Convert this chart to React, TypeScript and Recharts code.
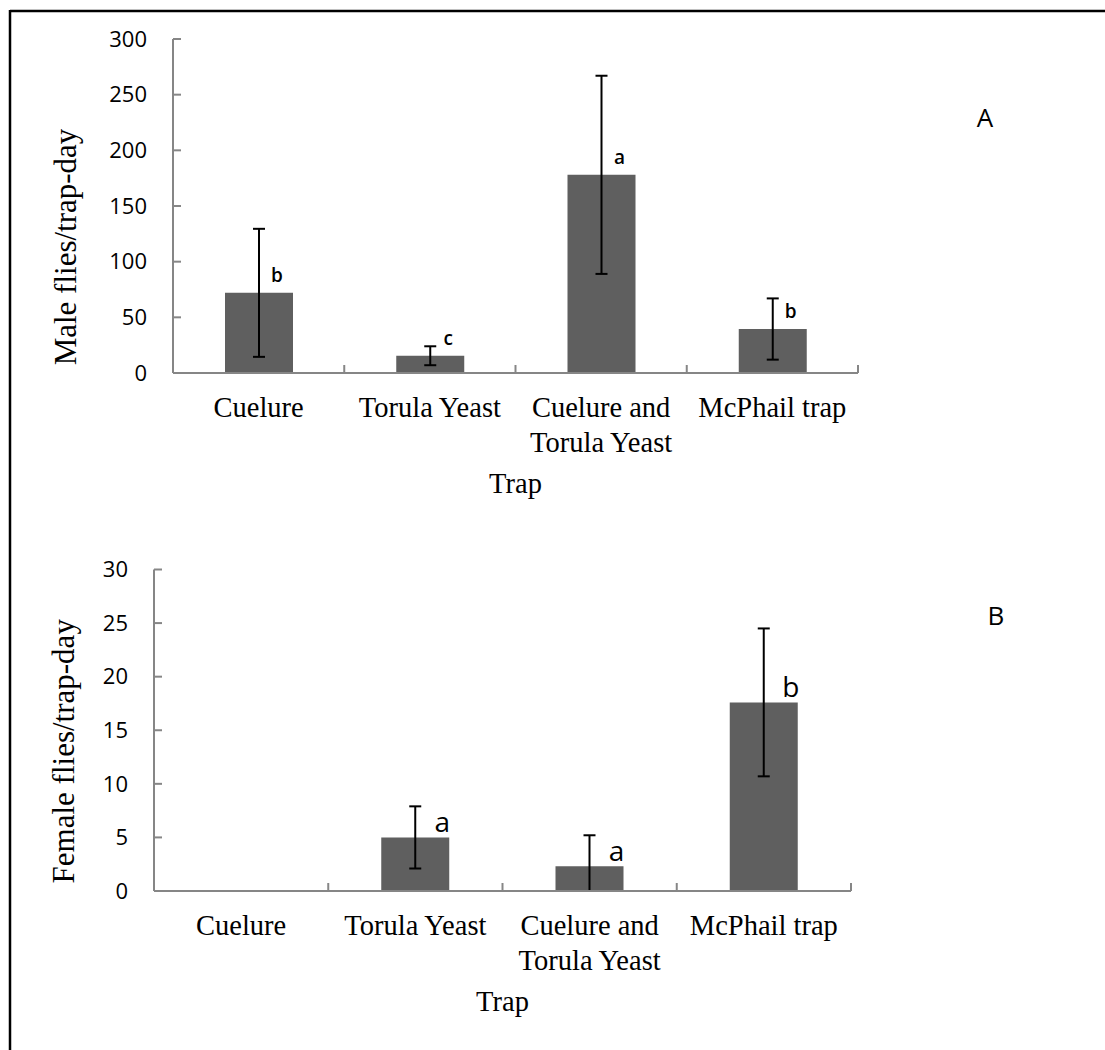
import { Bar, BarChart, ErrorBar, LabelList, XAxis, YAxis } from 'recharts'

// data
const traps = ['Cuelure', 'Torula Yeast', 'Cuelure and\nTorula Yeast', 'McPhail trap']

const maleMeans = [72, 15.5, 178, 39.5]
const maleErrors = [57.5, 8.5, 89, 27.5]
const maleLetters = ['b', 'c', 'a', 'b']
const maleTicks = [0, 50, 100, 150, 200, 250, 300]

const femaleMeans = [0, 5, 2.3, 17.6]
// [below, above]; the lower arm of the third bar stops at the axis
const femaleErrors = [[0, 0], [2.9, 2.9], [2.3, 2.9], [6.9, 6.9]]
const femaleLetters = ['', 'a', 'a', 'b']
const femaleTicks = [0, 5, 10, 15, 20, 25, 30]

const SERIF = "'Liberation Serif', 'Times New Roman', serif"
const SANS = "'Open Sans', 'Noto Sans', sans-serif"
const AXIS = '#868686'
const BAR = '#5f5f5f'

type PanelProps = {
    means: number[]
    errors: (number | number[])[]
    letters: string[]
    ticks: number[]
    yTitle: string
    top: number
    height: number
    margin: { top: number; right: number; bottom: number; left: number }
    titleDx: number
    titleDy: number
    letterSize: number
    letterWeight: number
    letterDx: number
    letterDy: number
}

// category label plus the small upward tick on the right edge of its band
const TrapTick = (props: any) => {
    const { x, y, payload, width, visibleTicksCount } = props
    const band = width / (visibleTicksCount || 4)
    const lines = String(payload.value).split('\n')
    return (
        <g>
            <line x1={x + band / 2} y1={y} x2={x + band / 2} y2={y - 8} stroke={AXIS} strokeWidth={2} />
            <text x={x} y={y + 44} textAnchor="middle" fontFamily={SERIF} fontSize={28.5} fill="#000">
                {lines.map((line, i) => (
                    <tspan key={i} x={x} dy={i === 0 ? 0 : 34.5}>
                        {line}
                    </tspan>
                ))}
            </text>
        </g>
    )
}

const Panel = (p: PanelProps) => {
    const rows = traps.map((trap, i) => ({
        trap,
        mean: p.means[i],
        err: p.errors[i],
        letter: p.letters[i]
    }))
    const max = p.ticks[p.ticks.length - 1]

    const renderLetter = (props: any) => {
        const vb = props.viewBox ?? props
        const x = props.x ?? vb.x
        const y = props.y ?? vb.y
        const width = props.width ?? vb.width
        if (!props.value) return null
        return (
            <text
                x={x + width / 2 + p.letterDx}
                y={y - p.letterDy}
                textAnchor="middle"
                dominantBaseline="central"
                fontFamily={SANS}
                fontSize={p.letterSize}
                fontWeight={p.letterWeight}
                fill="#000"
            >
                {props.value}
            </text>
        )
    }

    return (
        <div style={{ position: 'absolute', left: 0, top: p.top }}>
            <BarChart width={1105} height={p.height} data={rows} margin={p.margin} barSize={68}>
                <XAxis
                    dataKey="trap"
                    height={1}
                    interval={0}
                    tickSize={0}
                    tickMargin={0}
                    tickLine={false}
                    axisLine={{ stroke: AXIS, strokeWidth: 2 }}
                    tick={<TrapTick />}
                    label={(lp: any) => {
                        const vb = lp.viewBox
                        return (
                            <text
                                x={vb.x + vb.width / 2}
                                y={vb.y + 120}
                                textAnchor="middle"
                                fontFamily={SERIF}
                                fontSize={28.5}
                                fill="#000"
                            >
                                Trap
                            </text>
                        )
                    }}
                />
                <YAxis
                    type="number"
                    domain={[0, max]}
                    ticks={p.ticks}
                    allowDataOverflow
                    interval={0}
                    width={1}
                    tickSize={-8}
                    tickMargin={34}
                    axisLine={{ stroke: AXIS, strokeWidth: 2 }}
                    tickLine={{ stroke: AXIS, strokeWidth: 2 }}
                    tick={{ fontFamily: SANS, fontSize: 22, fill: '#000' }}
                    label={(lp: any) => {
                        const vb = lp.viewBox
                        const cx = vb.x + vb.width + p.titleDx
                        const cy = vb.y + vb.height / 2 + p.titleDy
                        return (
                            <text
                                x={cx}
                                y={cy}
                                transform={`rotate(-90, ${cx}, ${cy})`}
                                textAnchor="middle"
                                dominantBaseline="central"
                                fontFamily={SERIF}
                                fontSize={31}
                                fill="#000"
                            >
                                {p.yTitle}
                            </text>
                        )
                    }}
                />
                <Bar dataKey="mean" fill={BAR} isAnimationActive={false}>
                    <ErrorBar dataKey="err" direction="y" width={6} stroke="#000" strokeWidth={2} />
                    <LabelList dataKey="letter" content={renderLetter} />
                </Bar>
            </BarChart>
        </div>
    )
}

export default function App() {
    return (
        <div
            style={{
                position: 'absolute',
                left: 0,
                top: 0,
                width: 1105,
                height: 1050,
                background: '#fff',
                overflow: 'hidden'
            }}
        >
            <Panel
                means={maleMeans}
                errors={maleErrors}
                letters={maleLetters}
                ticks={maleTicks}
                yTitle="Male flies/trap-day"
                top={0}
                height={520}
                margin={{ top: 39, right: 247, bottom: 146, left: 172 }}
                titleDx={-108}
                titleDy={41}
                letterSize={19}
                letterWeight={600}
                letterDx={18}
                letterDy={18}
            />
            <Panel
                means={femaleMeans}
                errors={femaleErrors}
                letters={femaleLetters}
                ticks={femaleTicks}
                yTitle="Female flies/trap-day"
                top={520}
                height={530}
                margin={{ top: 49.5, right: 254, bottom: 158, left: 153 }}
                titleDx={-91}
                titleDy={21}
                letterSize={28}
                letterWeight={400}
                letterDx={27}
                letterDy={16}
            />
            <svg
                width={1105}
                height={1050}
                style={{ position: 'absolute', left: 0, top: 0, pointerEvents: 'none' }}
            >
                <line x1={10} y1={11} x2={1105} y2={11} stroke="#000" strokeWidth={2.5} />
                <line x1={10} y1={10} x2={10} y2={1050} stroke="#000" strokeWidth={2.5} />
                <text x={985} y={127} textAnchor="middle" fontFamily={SANS} fontSize={26} fill="#000">
                    A
                </text>
                <text x={996} y={625} textAnchor="middle" fontFamily={SANS} fontSize={26} fill="#000">
                    B
                </text>
            </svg>
        </div>
    )
}
